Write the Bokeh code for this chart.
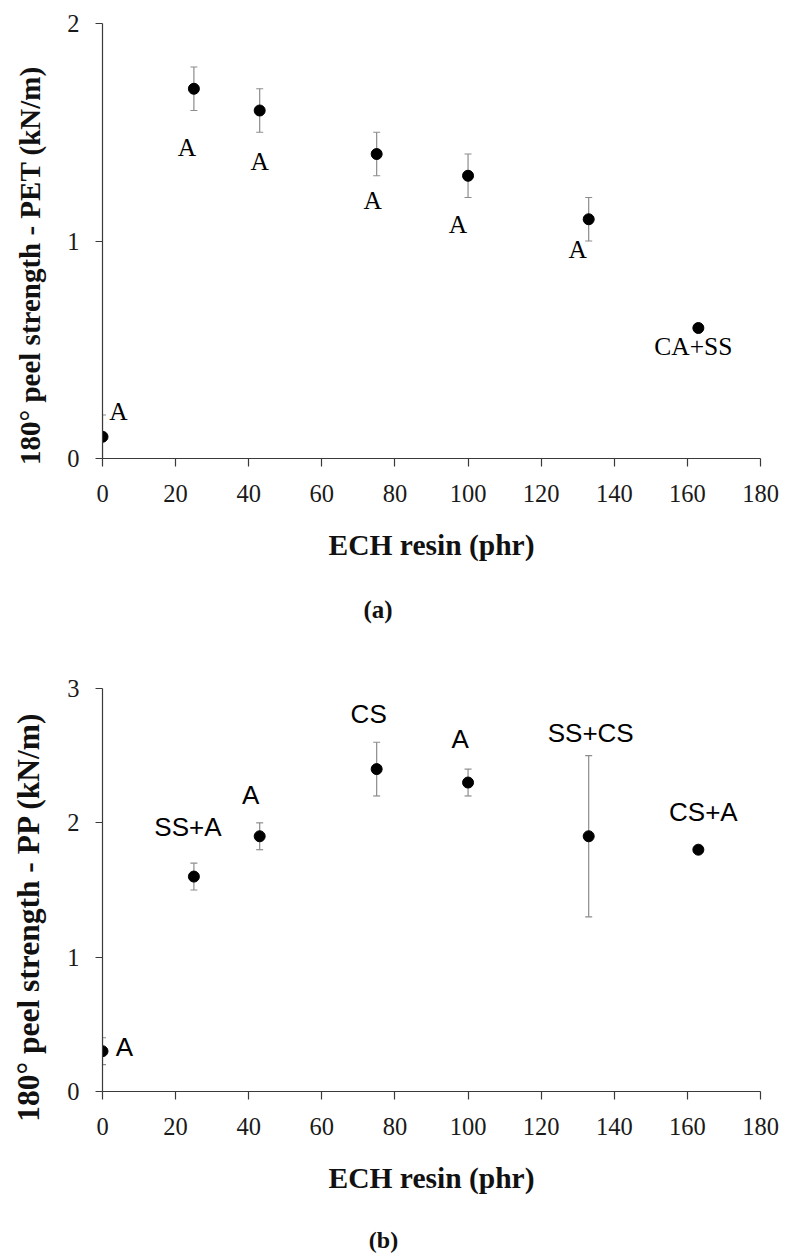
from bokeh.plotting import figure
from bokeh.layouts import column
from bokeh.models import ColumnDataSource, Title, FixedTicker, Range1d, Label
from bokeh.core.properties import value
from bokeh.embed import file_html
from bokeh.resources import INLINE

# ---------------- data ----------------
ech_phr = [0, 25, 43, 75, 100, 133, 163]

pet_strength = [0.1, 1.7, 1.6, 1.4, 1.3, 1.1, 0.6]
pet_err = [0.1, 0.1, 0.1, 0.1, 0.1, 0.1, 0.0]
pet_failure = ["A", "A", "A", "A", "A", "A", "CA+SS"]

pp_strength = [0.3, 1.6, 1.9, 2.4, 2.3, 1.9, 1.8]
pp_err = [0.1, 0.1, 0.1, 0.2, 0.1, 0.6, 0.0]
pp_failure = ["A", "SS+A", "A", "CS", "A", "SS+CS", "CS+A"]

x_ticks = [0, 20, 40, 60, 80, 100, 120, 140, 160, 180]
pet_y_ticks = [0, 1, 2]
pp_y_ticks = [0, 1, 2, 3]

x_title = "ECH resin (phr)"
pet_y_title = "180\u00b0 peel strength - PET (kN/m)"
pp_y_title = "180\u00b0 peel strength - PP (kN/m)"

# ---------------- styling (label placement in pixels) ----------------
pet_dx = [16, -7, 0, -4, -10, -11, -5]
pet_dy = [-25, 59, 51, 46, 49, 30, 18]
pp_dx = [22, -6, -9, -8, -8, 2, 5]
pp_dy = [-4, -50, -41, -55, -44, -103, -38]

# trailing spacers nudge the rotated axis titles below the frame centre
PET_PAD = "\u2002\u2002\u2002\u2009"
PP_PAD = "\u2002\u2002\u2002\u2009"

SERIF = "Liberation Serif"
SANS = "Liberation Sans"
AXIS_COLOR = "#3a3a3a"
ERR_COLOR = "#8c8c8c"


def make_panel(y, err, labels, dx, dy, yticks, ytitle, ytitle_size,
               label_font, label_size, height, border_left, border_right,
               border_top, border_bottom):
    p = figure(width=788, height=height, output_backend="svg",
               toolbar_location=None,
               x_range=Range1d(0, 180), y_range=Range1d(0, max(yticks)),
               min_border_left=border_left, min_border_right=border_right,
               min_border_top=border_top, min_border_bottom=border_bottom)
    p.outline_line_color = None
    p.grid.visible = False
    p.background_fill_color = "white"
    p.border_fill_color = "white"

    # error bars
    lo = [v - e for v, e in zip(y, err)]
    hi = [v + e for v, e in zip(y, err)]
    src = ColumnDataSource(dict(x=ech_phr, y=y, lo=lo, hi=hi, lab=labels,
                                dx=dx, dy=dy))
    p.segment(x0="x", y0="lo", x1="x", y1="hi", source=src,
              line_color=ERR_COLOR, line_width=1.2)
    capx = [xv for xv, e in zip(ech_phr, err) if e > 0]
    caplo = [l for l, e in zip(lo, err) if e > 0]
    caphi = [h for h, e in zip(hi, err) if e > 0]
    p.scatter(capx + capx, caplo + caphi, marker="dash", size=7,
              line_color=ERR_COLOR, line_width=1.2)

    # points
    p.scatter(x="x", y="y", source=src, size=11, fill_color="black",
              line_color="black")

    # failure-mode labels
    p.text(x="x", y="y", text="lab", source=src, x_offset="dx", y_offset="dy",
           text_align="center", text_baseline="middle",
           text_font=value(label_font), text_font_size=label_size,
           text_color="black")

    # axes
    p.xaxis.ticker = FixedTicker(ticks=x_ticks)
    p.yaxis.ticker = FixedTicker(ticks=yticks)
    for ax in (p.xaxis[0], p.yaxis[0]):
        ax.axis_line_color = AXIS_COLOR
        ax.axis_line_width = 1.2
        ax.major_tick_line_color = AXIS_COLOR
        ax.major_tick_line_width = 1.2
        ax.minor_tick_line_color = None
        ax.major_tick_in = 0
        ax.major_label_text_font = SERIF
        ax.major_label_text_font_size = "24.5px"
        ax.major_label_text_color = "#1a1a1a"
        ax.axis_label_text_font = SERIF
        ax.axis_label_text_font_style = "bold"
        ax.axis_label_text_color = "#111111"
    p.xaxis.major_tick_out = 8
    p.yaxis.major_tick_out = 7
    p.xaxis.major_label_standoff = 18
    p.yaxis.major_label_standoff = 16

    p.xaxis.axis_label = x_title
    p.xaxis.axis_label_text_font_size = "29.5px"
    p.xaxis.axis_label_standoff = 24

    p.yaxis.axis_label = ytitle
    p.yaxis.axis_label_text_font_size = ytitle_size
    p.yaxis.axis_label_standoff = 18
    return p


pa = make_panel(pet_strength, pet_err, pet_failure, pet_dx, pet_dy,
                pet_y_ticks, pet_y_title + PET_PAD, "29px", SERIF, "25.5px",
                height=653, border_left=102, border_right=22, border_top=23,
                border_bottom=195)
cap_a = Title(text="(a)", align="left", offset=261, standoff=61,
              text_font=SERIF, text_font_size="25px", text_font_style="bold",
              text_color="#111111")
pa.add_layout(cap_a, "below")

pb = make_panel(pp_strength, pp_err, pp_failure, pp_dx, pp_dy,
                pp_y_ticks, pp_y_title + PP_PAD, "31.5px", SANS, "26px",
                height=570, border_left=96, border_right=28, border_top=35,
                border_bottom=132)

# caption strip for panel (b)
pc = figure(width=788, height=30, output_backend="svg", toolbar_location=None,
            x_axis_location=None, y_axis_location=None,
            min_border_left=0, min_border_right=0, min_border_top=0,
            min_border_bottom=0, x_range=Range1d(0, 1), y_range=Range1d(0, 1))
pc.outline_line_color = None
pc.grid.visible = False
pc.add_layout(Label(x=281, y=14, x_units="screen", y_units="screen",
                    text="(b)", text_align="center", text_baseline="middle",
                    text_font=SERIF, text_font_size="24px",
                    text_font_style="bold", text_color="#111111"))

layout = column(pa, pb, pc, spacing=0)
open("out.html", "w").write(file_html(layout, INLINE))
